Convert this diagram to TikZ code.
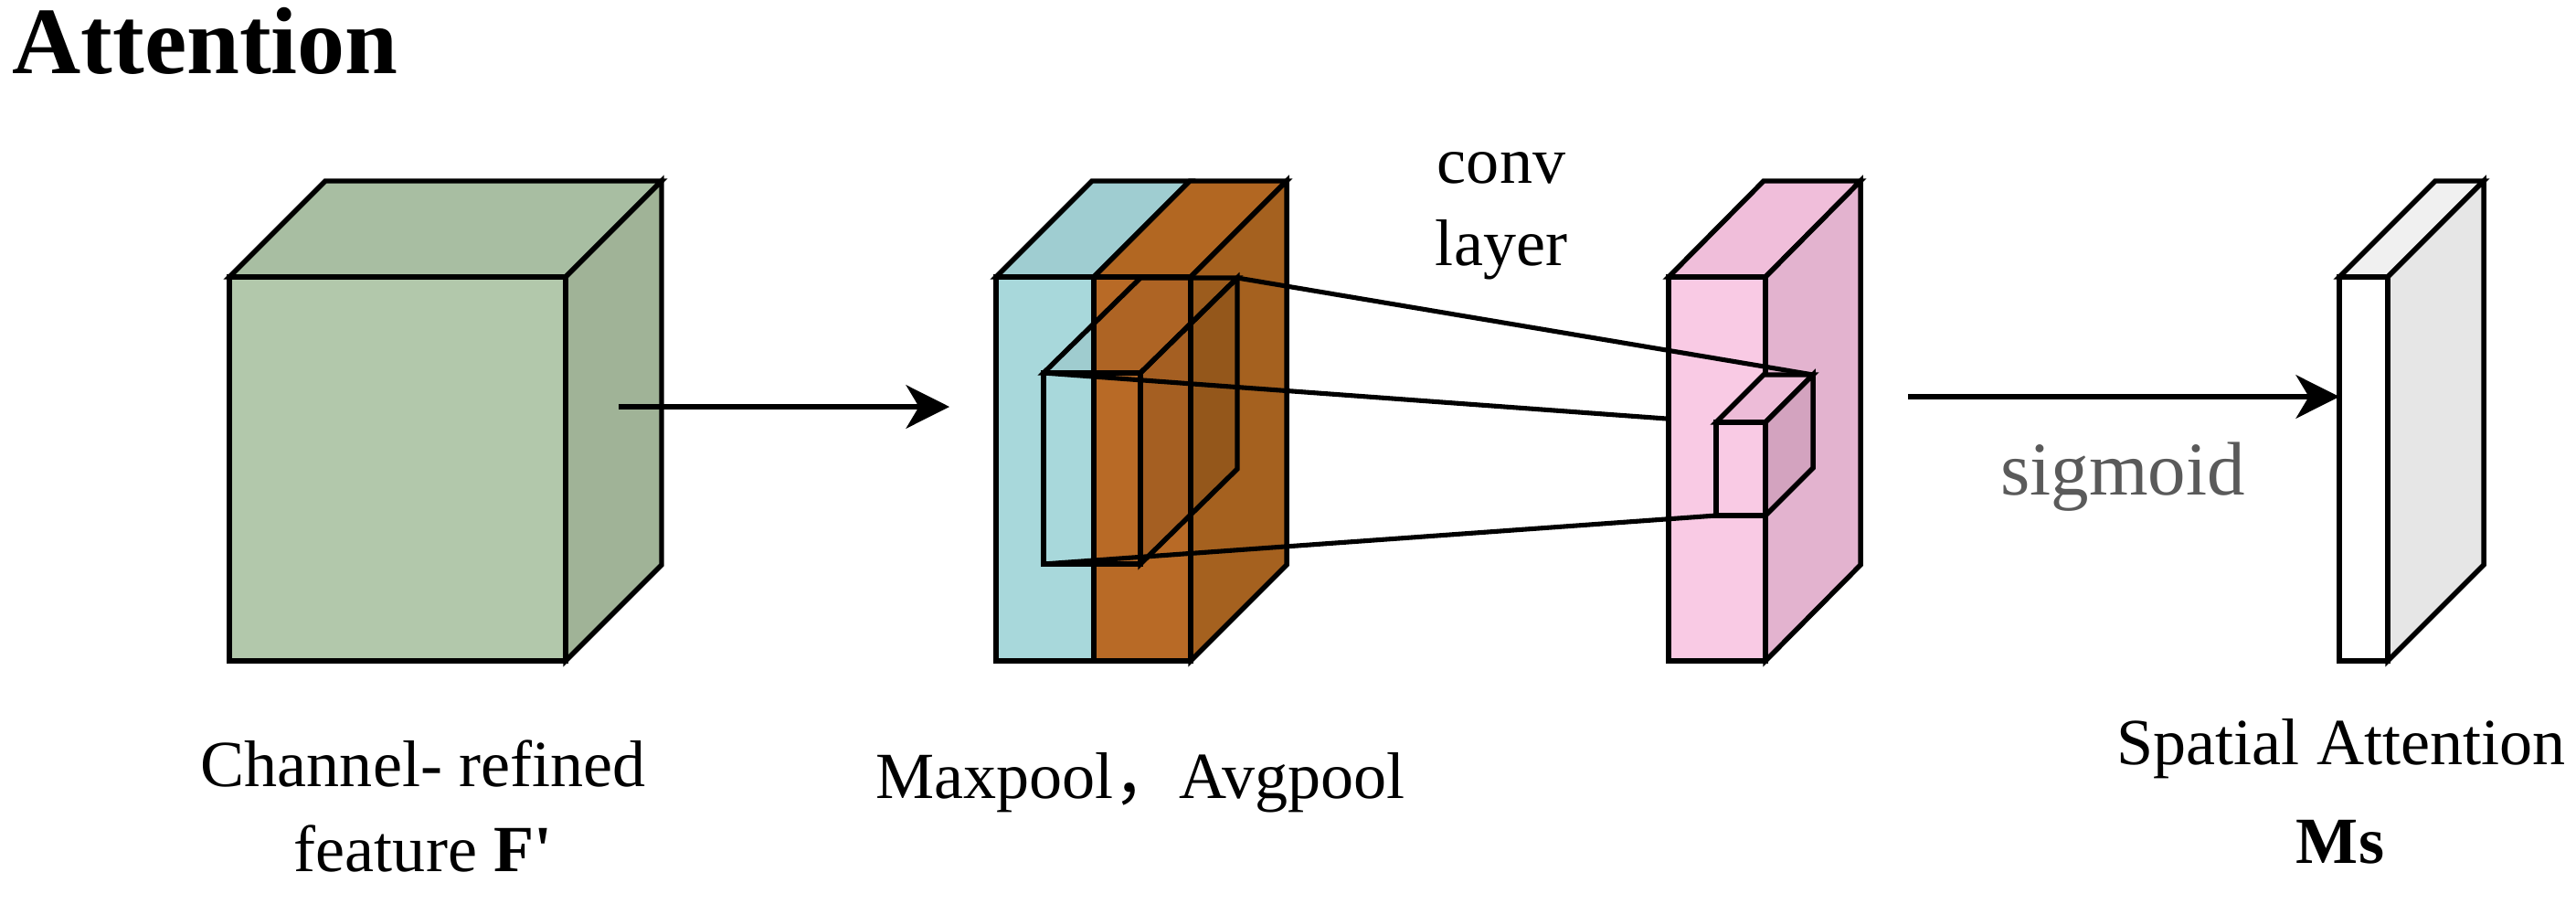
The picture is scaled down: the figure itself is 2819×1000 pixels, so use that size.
\documentclass[tikz,border=0pt]{standalone}
\usepackage{fontspec}
\setmainfont{Liberation Serif}
\newfontfamily\cjkfont{Noto Sans CJK SC}
\usetikzlibrary{arrows.meta}
\definecolor{grnF}{HTML}{B2C8AB}
\definecolor{grnT}{HTML}{A8BEA2}
\definecolor{grnR}{HTML}{A0B397}
\definecolor{bluF}{HTML}{A8D8DB}
\definecolor{bluT}{HTML}{9FCDD1}
\definecolor{brnF}{HTML}{B86A26}
\definecolor{brnT}{HTML}{B26722}
\definecolor{brnR}{HTML}{A5611F}
\definecolor{pnkF}{HTML}{F9CAE4}
\definecolor{pnkT}{HTML}{F0BEDA}
\definecolor{pnkR}{HTML}{E3B3CF}
\definecolor{pnkST}{HTML}{EDBCD8}
\definecolor{pnkSR}{HTML}{D3A3BF}
\definecolor{whT}{HTML}{F0F0F0}
\definecolor{whR}{HTML}{E6E6E6}
\definecolor{sigGray}{HTML}{5A5A5A}
\begin{document}
\begin{tikzpicture}[x=0.01cm,y=-0.01cm,
  edge/.style={draw=black,line width=1.55pt,line join=miter},
  conn/.style={draw=black,line width=1.45pt},
  arr/.style={draw=black,line width=1.45pt,-{Stealth[length=13.5pt,width=13.5pt,inset=4pt]}},
  lbl/.style={inner sep=0pt,anchor=base,font=\fontsize{20.5pt}{24pt}\selectfont},
]
\useasboundingbox (0,0) rectangle (2819,1000);

% ---- green cube (channel-refined feature)
\filldraw[edge,fill=grnT] (251,303) -- (356,198) -- (724,198) -- (619,303) -- cycle;
\filldraw[edge,fill=grnR] (619,303) -- (724,198) -- (724,618) -- (619,723) -- cycle;
\filldraw[edge,fill=grnF] (251,303) rectangle (619,723);

\coordinate (a1s) at (677,445);
\coordinate (a1e) at (1039,445);
\draw[arr] (a1s) -- (a1e);

% ---- pooling block (blue + brown)
\filldraw[edge,fill=bluT] (1090,303) -- (1195,198) -- (1302,198) -- (1197,303) -- cycle;
\filldraw[edge,fill=brnT] (1197,303) -- (1302,198) -- (1408,198) -- (1303,303) -- cycle;
\filldraw[edge,fill=brnR] (1303,303) -- (1408,198) -- (1408,618) -- (1303,723) -- cycle;
\filldraw[edge,fill=bluF] (1090,303) rectangle (1197,723);
\filldraw[edge,fill=brnF] (1197,303) rectangle (1303,723);

% inner receptive-field cube
\filldraw[edge,fill=black,fill opacity=0.05] (1142,408) -- (1248,304) -- (1354,304) -- (1248,408) -- cycle;
\filldraw[edge,fill=black,fill opacity=0.10] (1248,408) -- (1354,304) -- (1354,513) -- (1248,617) -- cycle;
\draw[edge] (1142,408) rectangle (1248,617);

\coordinate (icbtr) at (1354,304);
\coordinate (icftl) at (1142,408);
\coordinate (icfbl) at (1142,617);
\coordinate (pkstl) at (1878,462);
\coordinate (pksbtr) at (1984,410);
\coordinate (pksfbl) at (1878,564);

% hidden connector (behind the conv block)
\draw[conn] (icftl) -- (pkstl);

% ---- conv layer block (pink)
\filldraw[edge,fill=pnkT] (1826,303) -- (1930,198) -- (2036,198) -- (1932,303) -- cycle;
\filldraw[edge,fill=pnkR] (1932,303) -- (2036,198) -- (2036,618) -- (1932,723) -- cycle;
\filldraw[edge,fill=pnkF] (1826,303) rectangle (1932,723);
\filldraw[edge,fill=pnkST] (1878,462) -- (1930,410) -- (1984,410) -- (1932,462) -- cycle;
\filldraw[edge,fill=pnkSR] (1932,462) -- (1984,410) -- (1984,512) -- (1932,564) -- cycle;
\filldraw[edge,fill=pnkF] (1878,462) rectangle (1932,564);

\draw[conn] (icbtr) -- (pksbtr);
\draw[conn] (icfbl) -- (pksfbl);

% ---- sigmoid arrow and output slab
\coordinate (a2s) at (2088,434);
\coordinate (a2e) at (2560,434);
\filldraw[edge,fill=whT] (2560,303) -- (2665,198) -- (2718,198) -- (2613,303) -- cycle;
\filldraw[edge,fill=whR] (2613,303) -- (2718,198) -- (2718,618) -- (2613,723) -- cycle;
\filldraw[edge,fill=white] (2560,303) rectangle (2613,723);
\draw[arr] (a2s) -- (a2e);

% ---- texts
\node[lbl,anchor=base west,font=\bfseries\fontsize{29.6pt}{34pt}\selectfont] (title) at (13,80) {Attention};
\node[lbl] (conv) at (1643,200) {conv};
\node[lbl] (layer) at (1643,290) {layer};
\node[lbl,font=\fontsize{23.6pt}{28pt}\selectfont,text=sigGray] (sig) at (2323,541) {sigmoid};
\node[lbl] (ch1) at (463,860) {Channel- refined};
\node[lbl] (ch2) at (463,953) {feature \textbf{F\textquotesingle}};
\node[lbl] (pool) at (1248,873) {Maxpool{\cjkfont ，}Avgpool};
\node[lbl] (sa1) at (2562,836) {Spatial Attention};
\node[lbl,font=\bfseries\fontsize{20.5pt}{24pt}\selectfont] (sa2) at (2561,944) {Ms};
\end{tikzpicture}
\end{document}
